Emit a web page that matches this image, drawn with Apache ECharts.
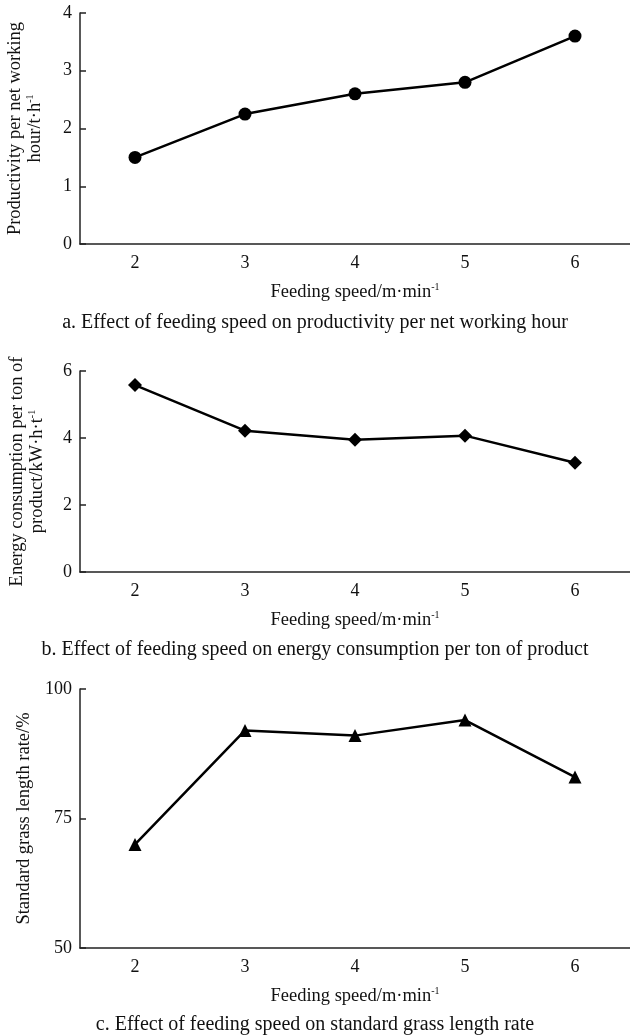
<!DOCTYPE html>
<html>
<head>
<meta charset="utf-8">
<script src="https://cdn.jsdelivr.net/npm/echarts@6/dist/echarts.min.js"></script>
<style>
html,body{margin:0;padding:0;background:#fff;}
#main{width:630px;height:1035px;}
</style>
</head>
<body>
<div id="main"></div>
<script>
const categories = ['2', '3', '4', '5', '6'];
const productivity = [1.5, 2.25, 2.6, 2.8, 3.6];
const energy = [5.58, 4.22, 3.95, 4.07, 3.26];
const grassRate = [70, 92, 91, 94, 83];
const yTicksA = [0, 1, 2, 3, 4];
const yTicksB = [0, 2, 4, 6];
const yTicksC = [50, 75, 100];
const captions = [
  'a. Effect of feeding speed on productivity per net working hour',
  'b. Effect of feeding speed on energy consumption per ton of product',
  'c. Effect of feeding speed on standard grass length rate'
];

const FONT = 'Liberation Serif';
const chart = echarts.init(document.getElementById('main'));
const rich = {
  n: {fontFamily: FONT, fontSize: 18.5, color: '#111', lineHeight: 20},
  s: {fontFamily: FONT, fontSize: 10, color: '#111', lineHeight: 20, padding: [0, 0, 10, 0]}
};
const grids = [
  {left: 80, right: 0, top: 13, height: 231, outerBoundsMode: 'none', containLabel: false},
  {left: 80, right: 0, top: 371, height: 201, outerBoundsMode: 'none', containLabel: false},
  {left: 80, right: 0, top: 689, height: 259, outerBoundsMode: 'none', containLabel: false}
];
function xAxis(i) {
  return {
    type: 'category', gridIndex: i, data: categories, boundaryGap: true,
    axisLine: {lineStyle: {color: '#222', width: 1.5}},
    axisTick: {inside: true, length: 5, alignWithLabel: false, lineStyle: {color: '#222', width: 1.5}},
    axisLabel: {fontFamily: FONT, fontSize: 18, color: '#111', margin: 10},
    name: '{n|Feeding speed/m·min}{s|-1}',
    nameLocation: 'middle', nameGap: 38,
    nameTextStyle: {rich: rich}
  };
}
function yAxis(i, ticks, name, gap) {
  return {
    type: 'value', gridIndex: i,
    min: ticks[0], max: ticks[ticks.length - 1], interval: ticks[1] - ticks[0],
    axisLine: {show: true, lineStyle: {color: '#222', width: 1.5}},
    axisTick: {show: true, inside: true, length: 6, lineStyle: {color: '#222', width: 1.5}},
    splitLine: {show: false},
    axisLabel: {fontFamily: FONT, fontSize: 18, color: '#111', margin: 8},
    name: name, nameLocation: 'middle', nameGap: gap, nameRotate: 90,
    nameTextStyle: {rich: rich, lineHeight: 20, align: 'center'}
  };
}
function series(i, data, symbol, size) {
  return {
    type: 'line', xAxisIndex: i, yAxisIndex: i, data: data,
    symbol: symbol, symbolSize: size, showSymbol: true,
    lineStyle: {color: '#000', width: 2.5},
    itemStyle: {color: '#000'},
    animation: false
  };
}
const captionY = [324, 651, 1026];
chart.setOption({
  animation: false,
  grid: grids,
  xAxis: [xAxis(0), xAxis(1), xAxis(2)],
  yAxis: [
    yAxis(0, yTicksA, '{n|Productivity per net working}\n{n|hour/t·h}{s|-1}', 35),
    yAxis(1, yTicksB, '{n|Energy consumption per ton of}\n{n|product/kW·h·t}{s|-1}', 33),
    yAxis(2, yTicksC, '{n|Standard grass length rate/%}', 42)
  ],
  series: [
    series(0, productivity, 'circle', 13),
    series(1, energy, 'diamond', 14),
    series(2, grassRate, 'triangle', 13)
  ],
  graphic: captions.map((t, i) => ({
    type: 'text', left: 'center', top: captionY[i] - 11,
    style: {text: t, fontFamily: FONT, fontSize: 20, fill: '#111'}
  }))
});
</script>
</body>
</html>
